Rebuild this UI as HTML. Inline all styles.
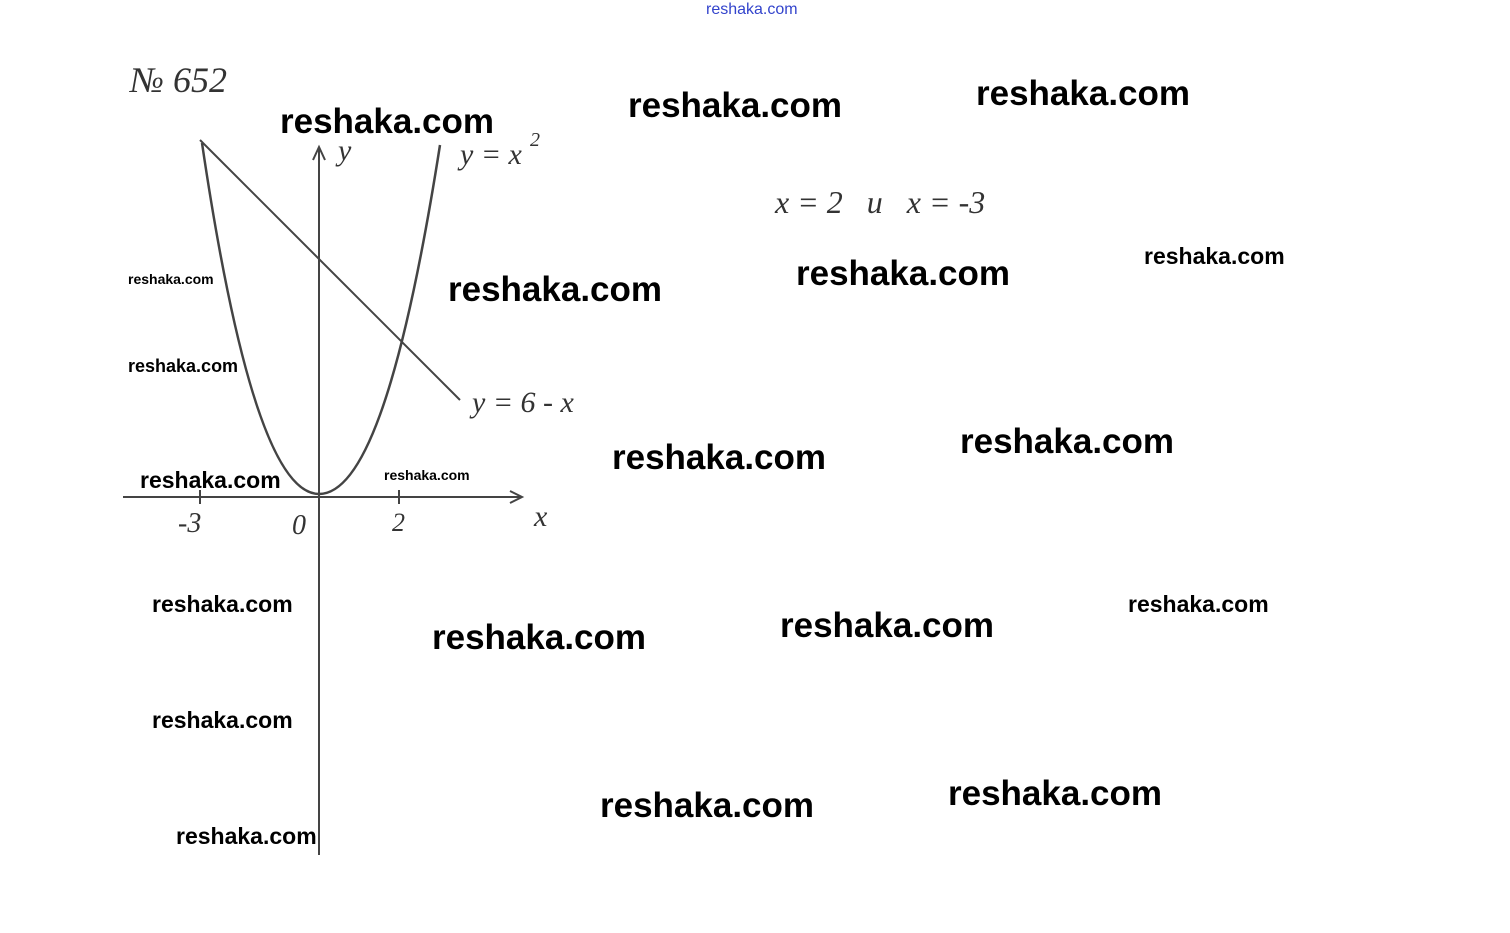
<!DOCTYPE html>
<html><head><meta charset="utf-8"><style>
body{margin:0;width:1510px;height:933px;background:#fff;position:relative;overflow:hidden}
.w{position:absolute;font-family:"Liberation Sans",sans-serif;font-weight:bold;color:#000;line-height:1;white-space:nowrap}
.h{position:absolute;font-family:"Liberation Serif",serif;font-style:italic;color:#333;line-height:1;white-space:nowrap}
</style></head><body>
<svg width="1510" height="933" style="position:absolute;left:0;top:0">
<g stroke="#444" fill="none" stroke-width="2">
<line x1="319" y1="855" x2="319" y2="147"/>
<polyline points="313,160 319,147 325,160"/>
<line x1="123" y1="497" x2="522" y2="497"/>
<polyline points="510,491 522,497 510,503"/>
<line x1="200" y1="490" x2="200" y2="504"/>
<line x1="399" y1="490" x2="399" y2="504"/>
<line x1="200" y1="140" x2="460" y2="400"/>
<path d="M202,143 C240,400 280,494 319,494 C360,494 400,400 440,145" stroke-width="2.5"/>
</g>
</svg>
<div class="h" style="left:130px;top:62px;font-size:36px">№ 652</div>
<div class="h" style="left:338px;top:136px;font-size:30px">y</div>
<div class="h" style="left:460px;top:140px;font-size:30px">y = x</div>
<div class="h" style="left:530px;top:130px;font-size:20px">2</div>
<div class="h" style="left:472px;top:388px;font-size:30px">y = 6 - x</div>
<div class="h" style="left:178px;top:510px;font-size:28px">-3</div>
<div class="h" style="left:292px;top:512px;font-size:28px">0</div>
<div class="h" style="left:392px;top:510px;font-size:26px">2</div>
<div class="h" style="left:534px;top:502px;font-size:30px">x</div>
<div class="h" style="left:775px;top:186px;font-size:32px">x = 2 &nbsp; и &nbsp; x = -3</div>
<div class="w" style="left:706px;top:2px;font-size:16px;color:#3344cc;font-weight:normal">reshaka.com</div>

<div class="w" style="left:280px;top:104px;font-size:35px">reshaka.com</div>
<div class="w" style="left:628px;top:88px;font-size:35px">reshaka.com</div>
<div class="w" style="left:976px;top:76px;font-size:35px">reshaka.com</div>
<div class="w" style="left:448px;top:272px;font-size:35px">reshaka.com</div>
<div class="w" style="left:796px;top:256px;font-size:35px">reshaka.com</div>
<div class="w" style="left:1144px;top:245px;font-size:23px">reshaka.com</div>
<div class="w" style="left:128px;top:272px;font-size:14px">reshaka.com</div>
<div class="w" style="left:128px;top:357px;font-size:18px">reshaka.com</div>
<div class="w" style="left:612px;top:440px;font-size:35px">reshaka.com</div>
<div class="w" style="left:960px;top:424px;font-size:35px">reshaka.com</div>
<div class="w" style="left:140px;top:469px;font-size:23px">reshaka.com</div>
<div class="w" style="left:384px;top:468px;font-size:14px">reshaka.com</div>
<div class="w" style="left:152px;top:593px;font-size:23px">reshaka.com</div>
<div class="w" style="left:432px;top:620px;font-size:35px">reshaka.com</div>
<div class="w" style="left:780px;top:608px;font-size:35px">reshaka.com</div>
<div class="w" style="left:1128px;top:593px;font-size:23px">reshaka.com</div>
<div class="w" style="left:152px;top:709px;font-size:23px">reshaka.com</div>
<div class="w" style="left:600px;top:788px;font-size:35px">reshaka.com</div>
<div class="w" style="left:948px;top:776px;font-size:35px">reshaka.com</div>
<div class="w" style="left:176px;top:825px;font-size:23px">reshaka.com</div>
</body></html>
